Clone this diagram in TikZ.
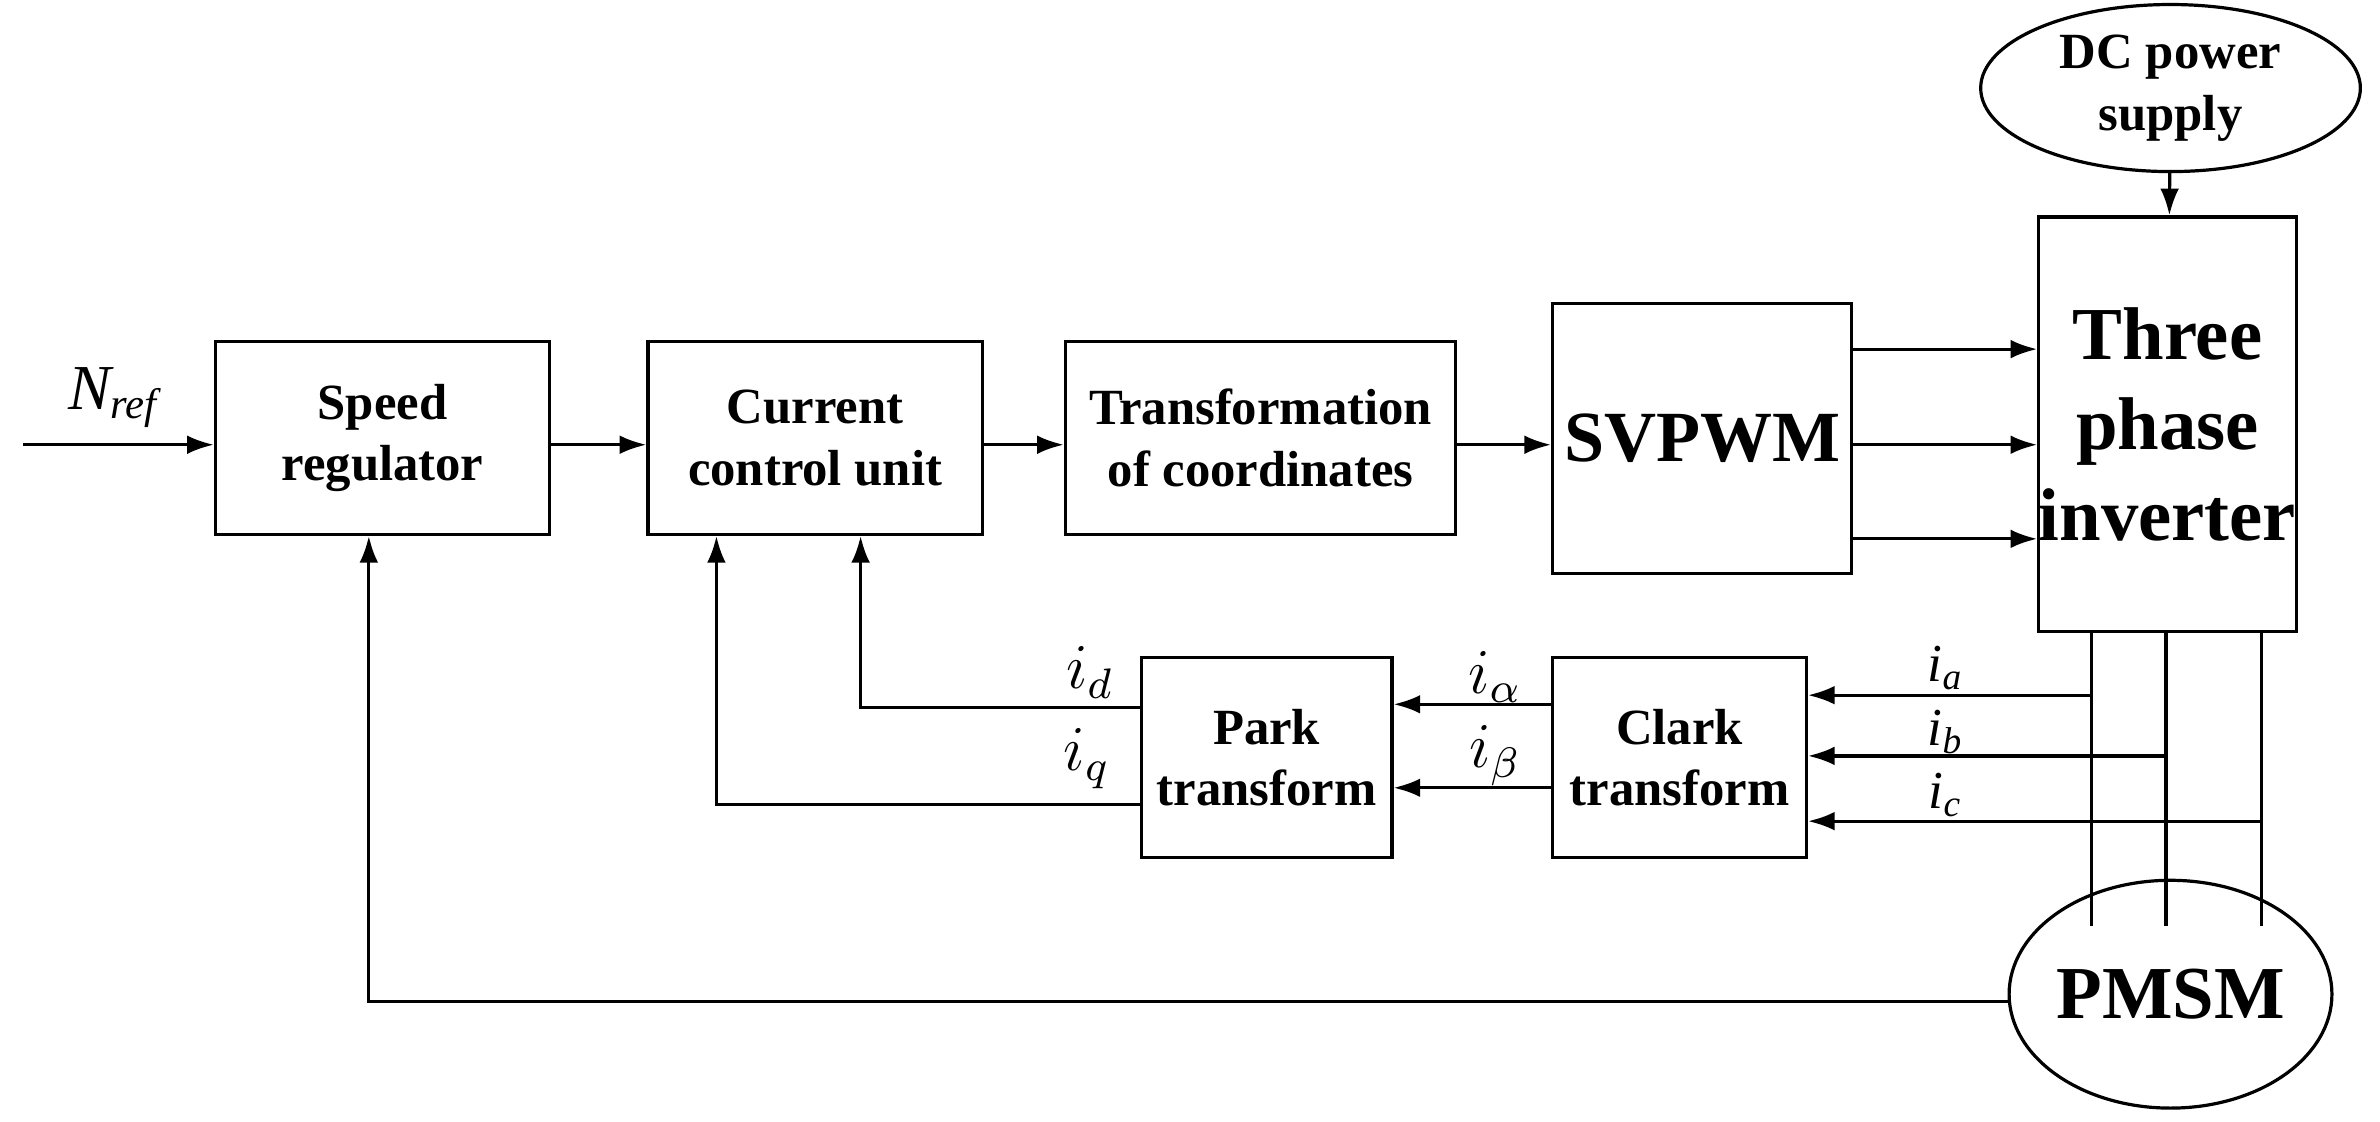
\documentclass[tikz,border=0pt]{standalone}
\usepackage{fontspec}
\setmainfont{Liberation Serif}
\usetikzlibrary{arrows.meta,shapes.geometric}
\begin{document}
\begin{tikzpicture}[x=0.01cm,y=-0.01cm,
  box/.style={draw,semithick,inner sep=0pt,align=center,font=\bfseries\fontsize{9.5}{11.5}\selectfont},
  ar/.style={-{Latex[length=5pt,width=3.5pt]},semithick},
  ln/.style={semithick},
  lab/.style={font=\itshape\fontsize{12}{12}\selectfont,inner sep=0pt},
  slab/.style={font=\itshape\fontsize{10}{10}\selectfont,inner sep=0pt}]
\useasboundingbox (0,0) rectangle (1568,739);
\node[box,minimum width=2.2cm,minimum height=1.27cm] (sr) at (252,288.5) {Speed\\regulator};
\node[box,minimum width=2.2cm,minimum height=1.27cm] (cc) at (537,288.5) {Current\\control unit};
\node[box,minimum width=2.57cm,minimum height=1.27cm] (tc) at (830.5,288.5) {Transformation\\of coordinates};
\node[box,minimum width=1.97cm,minimum height=1.78cm,font=\bfseries\fontsize{13.5}{16}\selectfont] (sv) at (1121.5,289) {SVPWM};
\node[box,minimum width=1.66cm,minimum height=2.73cm,font=\bfseries\fontsize{14}{17}\selectfont] (inv) at (1428,279.5) {Three\\phase\\inverter};
\node[draw,semithick,ellipse,minimum width=2.5cm,minimum height=1.1cm,inner sep=0pt,align=center,font=\bfseries\fontsize{9.5}{11.5}\selectfont] (dc) at (1430,58) {DC power\\supply};
\node[box,minimum width=1.65cm,minimum height=1.32cm] (pk) at (834.5,499) {Park\\transform};
\node[box,minimum width=1.67cm,minimum height=1.32cm] (cl) at (1106.5,499) {Clark\\transform};
\node[draw,semithick,ellipse,minimum width=2.1cm,minimum height=1.5cm,inner sep=0pt,font=\bfseries\fontsize{14}{17}\selectfont] (pm) at (1430,655) {PMSM};
\coordinate (in) at (15,293);
\draw[ar] (in) -- (in -| sr.west);
\node[lab] (nref) at (75,262) {N\textsubscript{ref}};
\draw[ar] (sr.east |- 0,293) -- (cc.west |- 0,293);
\draw[ar] (cc.east |- 0,293) -- (tc.west |- 0,293);
\draw[ar] (tc.east |- 0,293) -- (sv.west |- 0,293);
\foreach \y in {230,293,355} \draw[ar] (sv.east |- 0,\y) -- (inv.west |- 0,\y);
\draw[ar] (dc) -- (inv);
\foreach \x in {1378,1427,1490} \draw[ln] (inv.south -| \x,0) -- (\x,610);
\draw[ar] (1378,458) -- (cl.east |- 0,458);
\draw[ar] (1427,498) -- (cl.east |- 0,498);
\draw[ar] (1490,541) -- (cl.east |- 0,541);
\node[slab] (la) at (1282,440) {i\textsubscript{a}};
\node[slab] (lb) at (1282,482) {i\textsubscript{b}};
\node[slab] (lc) at (1282,524) {i\textsubscript{c}};
\draw[ar] (cl.west |- 0,464) -- (pk.east |- 0,464);
\draw[ar] (cl.west |- 0,519) -- (pk.east |- 0,519);
\node[lab] (lal) at (985,446) {$i_\alpha$};
\node[lab] (lbe) at (985,498) {$i_\beta$};
\draw[ar] (pk.west |- 0,466) -- (567,466) -- (cc.south -| 567,0);
\draw[ar] (pk.west |- 0,530) -- (472,530) -- (cc.south -| 472,0);
\node[lab] (ld) at (718,443) {$i_d$};
\node[lab] (lq) at (716,500) {$i_q$};
\draw[ar] (pm.west |- 0,660) -- (243,660) -- (sr.south -| 243,0);
\end{tikzpicture}
\end{document}
